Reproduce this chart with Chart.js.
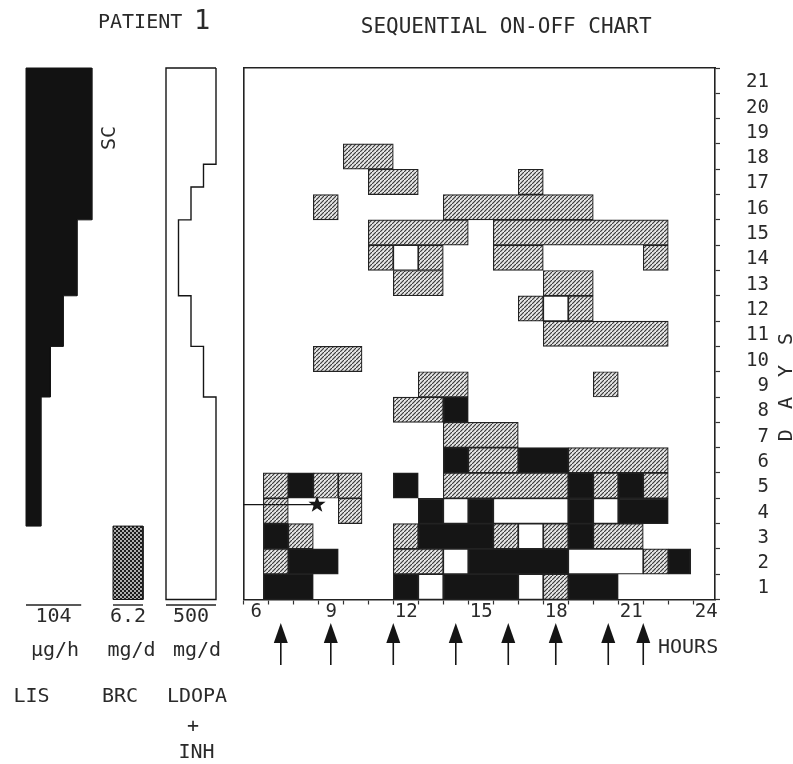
<!DOCTYPE html>
<html>
<head>
<meta charset="utf-8">
<title>Sequential on-off chart</title>
<script src="https://cdn.jsdelivr.net/npm/chart.js@4.4.1/dist/chart.umd.min.js"></script>
<style>
  body { margin: 0; background: #fff; }
  #page { position: relative; width: 793px; height: 764px; overflow: hidden; }
  #page canvas { position: absolute; top: 0; }
</style>
</head>
<body>
<div id="page">
  <canvas id="onoff" width="793" height="764" style="left:0"></canvas>
  <canvas id="lis" width="110" height="764" style="left:0"></canvas>
  <canvas id="brc" width="60" height="764" style="left:100px"></canvas>
  <canvas id="ldopa" width="80" height="764" style="left:156px"></canvas>
</div>
<script>
const FONT = '"DejaVu Sans Mono", monospace';
const INK = '#2a2a2a';

// axes
const hourMin = 6, hourMax = 24.87;
const hourTicks = [6, 9, 12, 15, 18, 21, 24];
const dayCount = 21;
const dayLabels = ['1', '2', '3', '4', '5', '6', '7', '8', '9', '10', '11',
                   '12', '13', '14', '15', '16', '17', '18', '19', '20', '21'];

// [day, from hour, to hour]
const offPeriods = [
  [1, 6.8, 8.8], [1, 12, 13], [1, 14, 17], [1, 19, 21],
  [2, 7.8, 9.8], [2, 15, 19], [2, 23, 23.9],
  [3, 6.8, 7.8], [3, 13, 16], [3, 19, 20],
  [4, 13, 14], [4, 15, 16], [4, 19, 20], [4, 21, 23],
  [5, 7.8, 8.8], [5, 12, 13], [5, 19, 20], [5, 21, 22],
  [6, 14, 15], [6, 17, 19],
  [8, 14, 15]
];
const dyskinesiaPeriods = [
  [1, 18, 19],
  [2, 6.8, 7.8], [2, 12, 14], [2, 22, 23],
  [3, 7.8, 8.8], [3, 12, 13], [3, 16, 17], [3, 18, 19], [3, 20, 22],
  [4, 6.8, 7.8], [4, 9.8, 10.75],
  [5, 6.8, 7.8], [5, 8.8, 9.8], [5, 9.8, 10.75], [5, 14, 19], [5, 20, 21], [5, 22, 23],
  [6, 15, 17], [6, 19, 23],
  [7, 14, 17],
  [8, 12, 14],
  [9, 13, 15], [9, 20, 21],
  [10, 8.8, 10.75],
  [11, 18, 23],
  [12, 17, 18], [12, 19, 20],
  [13, 12, 14], [13, 18, 20],
  [14, 11, 12], [14, 13, 14], [14, 16, 18], [14, 22, 23],
  [15, 11, 15], [15, 16, 23],
  [16, 8.8, 9.8], [16, 14, 20],
  [17, 11, 13], [17, 17, 18],
  [18, 10, 12]
];
const onPeriods = [
  [1, 13, 14], [1, 17, 18],
  [2, 14, 15], [2, 19, 22],
  [3, 17, 18],
  [4, 14, 15], [4, 16, 19], [4, 20, 21],
  [12, 18, 19],
  [14, 12, 13]
];

// drug intake times (arrows) and the marked event
const doseTimes = [7.5, 9.5, 12, 14.5, 16.6, 18.5, 20.6, 22];
const starHour = 8.95, starDay = 3.75;

// dose profiles: day ranges and dose
const lisFrom = [2.9, 8, 10, 12, 15];
const lisTo = [8, 10, 12, 15, 21];
const lisDose = [28, 46, 70, 96, 124];      // ug/h
const brcFrom = [0];
const brcTo = [2.9];
const brcDose = [6.2];                      // mg/d
const ldopaFrom = [0, 8, 10, 12, 15, 16.3, 17.2];
const ldopaTo = [8, 10, 12, 15, 16.3, 17.2, 21];
const ldopaDose = [500, 375, 250, 125, 250, 375, 500];  // mg/d

function hatchPattern() {
  const c = document.createElement('canvas');
  c.width = c.height = 4;
  const g = c.getContext('2d');
  g.fillStyle = '#e6e6e6';
  g.fillRect(0, 0, 4, 4);
  g.strokeStyle = '#383838';
  g.lineWidth = 1.15;
  g.beginPath(); g.moveTo(-1, 5); g.lineTo(5, -1); g.stroke();
  return g.createPattern(c, 'repeat');
}

function meshPattern() {
  const c = document.createElement('canvas');
  c.width = c.height = 4;
  const g = c.getContext('2d');
  g.fillStyle = '#1c1c1c';
  g.fillRect(0, 0, 4, 4);
  g.fillStyle = '#f4f4f4';
  g.beginPath(); g.arc(1, 1, 0.9, 0, Math.PI * 2); g.fill();
  g.beginPath(); g.arc(3, 3, 0.9, 0, Math.PI * 2); g.fill();
  return g.createPattern(c, 'repeat');
}

const toBars = list => list.map(([day, from, to]) => ({ x: [from, to], y: day - 0.5 }));

const barStyle = {
  xAxisID: 'x', yAxisID: 'y',
  grouped: false, barPercentage: 1, categoryPercentage: 1,
  borderColor: '#222', borderWidth: 1.2, borderSkipped: false
};

const frame = { display: true, color: '#222', width: 1.6 };

const decorations = {
  id: 'decorations',
  afterDraw(chart) {
    const { ctx, chartArea: area, scales: { x, y } } = chart;
    ctx.save();
    ctx.fillStyle = ctx.strokeStyle = '#151515';

    doseTimes.forEach(t => {
      const px = x.getPixelForValue(t);
      const top = area.bottom + 23.5;
      ctx.beginPath();
      ctx.moveTo(px, top);
      ctx.lineTo(px + 7, top + 20);
      ctx.lineTo(px - 7, top + 20);
      ctx.closePath();
      ctx.fill();
      ctx.lineWidth = 1.6;
      ctx.beginPath();
      ctx.moveTo(px, top + 18);
      ctx.lineTo(px, top + 42);
      ctx.stroke();
    });

    const sx = x.getPixelForValue(starHour), sy = y.getPixelForValue(starDay);
    ctx.lineWidth = 1.2;
    ctx.beginPath();
    ctx.moveTo(x.getPixelForValue(hourMin), sy);
    ctx.lineTo(sx, sy);
    ctx.stroke();
    ctx.beginPath();
    for (let k = 0; k < 10; k++) {
      const r = k % 2 ? 3.6 : 9;
      const a = -Math.PI / 2 + k * Math.PI / 5;
      ctx.lineTo(sx + r * Math.cos(a), sy + r * Math.sin(a));
    }
    ctx.closePath();
    ctx.fill();

    ctx.fillStyle = INK;
    ctx.textBaseline = 'middle';
    ctx.textAlign = 'left';
    ctx.font = `20px ${FONT}`;
    ctx.fillText('HOURS', area.right - 57, area.bottom + 48.5);

    ctx.save();
    ctx.translate(787, 385);
    ctx.rotate(-Math.PI / 2);
    ctx.textAlign = 'center';
    ctx.letterSpacing = '4px';
    ctx.fillText('D A Y S', 0, 0);
    ctx.restore();

    // page captions on the left
    ctx.textBaseline = 'alphabetic';
    ctx.fillText('PATIENT', 98, 28);
    ctx.font = `27px ${FONT}`;
    ctx.fillText('1', 194, 29);
    ctx.font = `20px ${FONT}`;
    ctx.textBaseline = 'middle';
    ctx.textAlign = 'center';
    ctx.save();
    ctx.translate(110, 138);
    ctx.rotate(-Math.PI / 2);
    ctx.fillText('SC', 0, 0);
    ctx.restore();
    [['\u00b5g/h', 55, 651], ['mg/d', 131.5, 651], ['mg/d', 197, 651],
     ['LIS', 31.5, 697], ['BRC', 120, 697], ['LDOPA', 197, 697],
     ['+', 193, 727], ['INH', 196.5, 753]]
      .forEach(([t, cx, cy]) => ctx.fillText(t, cx, cy));
    ctx.restore();
  }
};

new Chart(document.getElementById('onoff'), {
  type: 'bar',
  data: {
    datasets: [
      { label: 'ON', data: toBars(onPeriods), backgroundColor: '#ffffff', ...barStyle },
      { label: 'ON with dyskinesia', data: toBars(dyskinesiaPeriods), backgroundColor: hatchPattern(), ...barStyle },
      { label: 'OFF', data: toBars(offPeriods), backgroundColor: '#151515', ...barStyle }
    ]
  },
  options: {
    indexAxis: 'y',
    responsive: false,
    animation: false,
    events: [],
    layout: { padding: { left: 243.3, right: 24, top: 0, bottom: 0 } },
    scales: {
      x: {
        type: 'linear', position: 'bottom', min: hourMin, max: hourMax,
        afterFit: s => { s.height = 164.5; },
        ticks: {
          stepSize: 1, includeBounds: false, autoSkip: false, maxRotation: 0,
          labelOffset: 13, padding: -2, color: INK,
          font: { family: FONT, size: 19, lineHeight: 1 },
          callback: v => hourTicks.includes(v) ? String(v) : ''
        },
        grid: { drawOnChartArea: false, offset: false, tickLength: 5, tickColor: '#333', tickWidth: 1.2 },
        border: frame
      },
      xTop: {
        type: 'linear', position: 'top', min: hourMin, max: hourMax,
        afterFit: s => { s.height = 0; },
        ticks: { display: false },
        grid: { display: false },
        border: frame
      },
      y: {
        type: 'linear', position: 'right', min: 0, max: dayCount, offset: false,
        afterFit: s => { s.width = 54; },
        ticks: {
          stepSize: 1, autoSkip: false, crossAlign: 'far', padding: 7, labelOffset: -11,
          color: INK, font: { family: FONT, size: 19, lineHeight: 1 },
          callback: v => dayLabels[v] ?? ''
        },
        grid: { drawOnChartArea: false, offset: false, tickLength: 5, tickColor: '#333', tickWidth: 1.2 },
        border: frame
      },
      yLeft: {
        type: 'linear', position: 'left', min: 0, max: dayCount, offset: false,
        afterFit: s => { s.width = 0; },
        ticks: { display: false },
        grid: { display: false, offset: false },
        border: frame
      }
    },
    plugins: {
      legend: { display: false },
      tooltip: { enabled: false },
      title: {
        display: true,
        text: 'SEQUENTIAL ON-OFF CHART',
        color: INK,
        font: { family: FONT, size: 21, weight: 'normal' },
        padding: { top: 15, bottom: 27.8 }
      }
    }
  },
  plugins: [decorations]
});

// outline of a stepped dose profile: right edge top to bottom, back along zero
function profile(from, to, dose) {
  const order = from.map((_, i) => i).sort((a, b) => to[b] - to[a]);
  const pts = [];
  order.forEach(i => pts.push({ x: dose[i], y: to[i] }, { x: dose[i], y: from[i] }));
  pts.push({ x: 0, y: Math.min(...from) }, { x: 0, y: Math.max(...to) }, pts[0]);
  return pts;
}

function scaleBar(value, label) {
  return {
    id: 'scaleBar',
    afterDraw(chart) {
      const { ctx, chartArea: area, scales: { x } } = chart;
      const x0 = x.getPixelForValue(0), x1 = x.getPixelForValue(value);
      const yy = area.bottom + 5.5;
      ctx.save();
      ctx.strokeStyle = '#222';
      ctx.lineWidth = 1.4;
      ctx.beginPath(); ctx.moveTo(x0, yy); ctx.lineTo(x1, yy); ctx.stroke();
      ctx.fillStyle = INK;
      ctx.font = `20px ${FONT}`;
      ctx.textAlign = 'center';
      ctx.textBaseline = 'middle';
      ctx.fillText(label, (x0 + x1) / 2, yy + 12);
      ctx.restore();
    }
  };
}

function profileChart(id, points, o) {
  return new Chart(document.getElementById(id), {
    type: 'scatter',
    data: {
      datasets: [{
        data: points, showLine: true, tension: 0, pointRadius: 0, clip: 8,
        fill: o.fill ? 'shape' : false,
        backgroundColor: o.fill || 'transparent',
        borderColor: '#151515', borderWidth: o.line
      }]
    },
    options: {
      responsive: false, animation: false, events: [],
      layout: { padding: { left: o.left, right: o.right, top: 68, bottom: 164.5 } },
      scales: {
        x: { type: 'linear', display: false, min: 0, max: o.max },
        y: { type: 'linear', display: false, min: 0, max: dayCount }
      },
      plugins: { legend: { display: false }, tooltip: { enabled: false } }
    },
    plugins: [scaleBar(o.bar, o.barLabel)]
  });
}

profileChart('lis', profile(lisFrom, lisTo, lisDose),
  { fill: '#121212', line: 1, left: 26, right: 15, max: 130, bar: 104, barLabel: '104' });
profileChart('brc', profile(brcFrom, brcTo, brcDose),
  { fill: meshPattern(), line: 1, left: 13, right: 17, max: 6.2, bar: 6.2, barLabel: '6.2' });
profileChart('ldopa', profile(ldopaFrom, ldopaTo, ldopaDose),
  { fill: null, line: 1.4, left: 10, right: 20, max: 500, bar: 500, barLabel: '500' });
</script>
</body>
</html>
